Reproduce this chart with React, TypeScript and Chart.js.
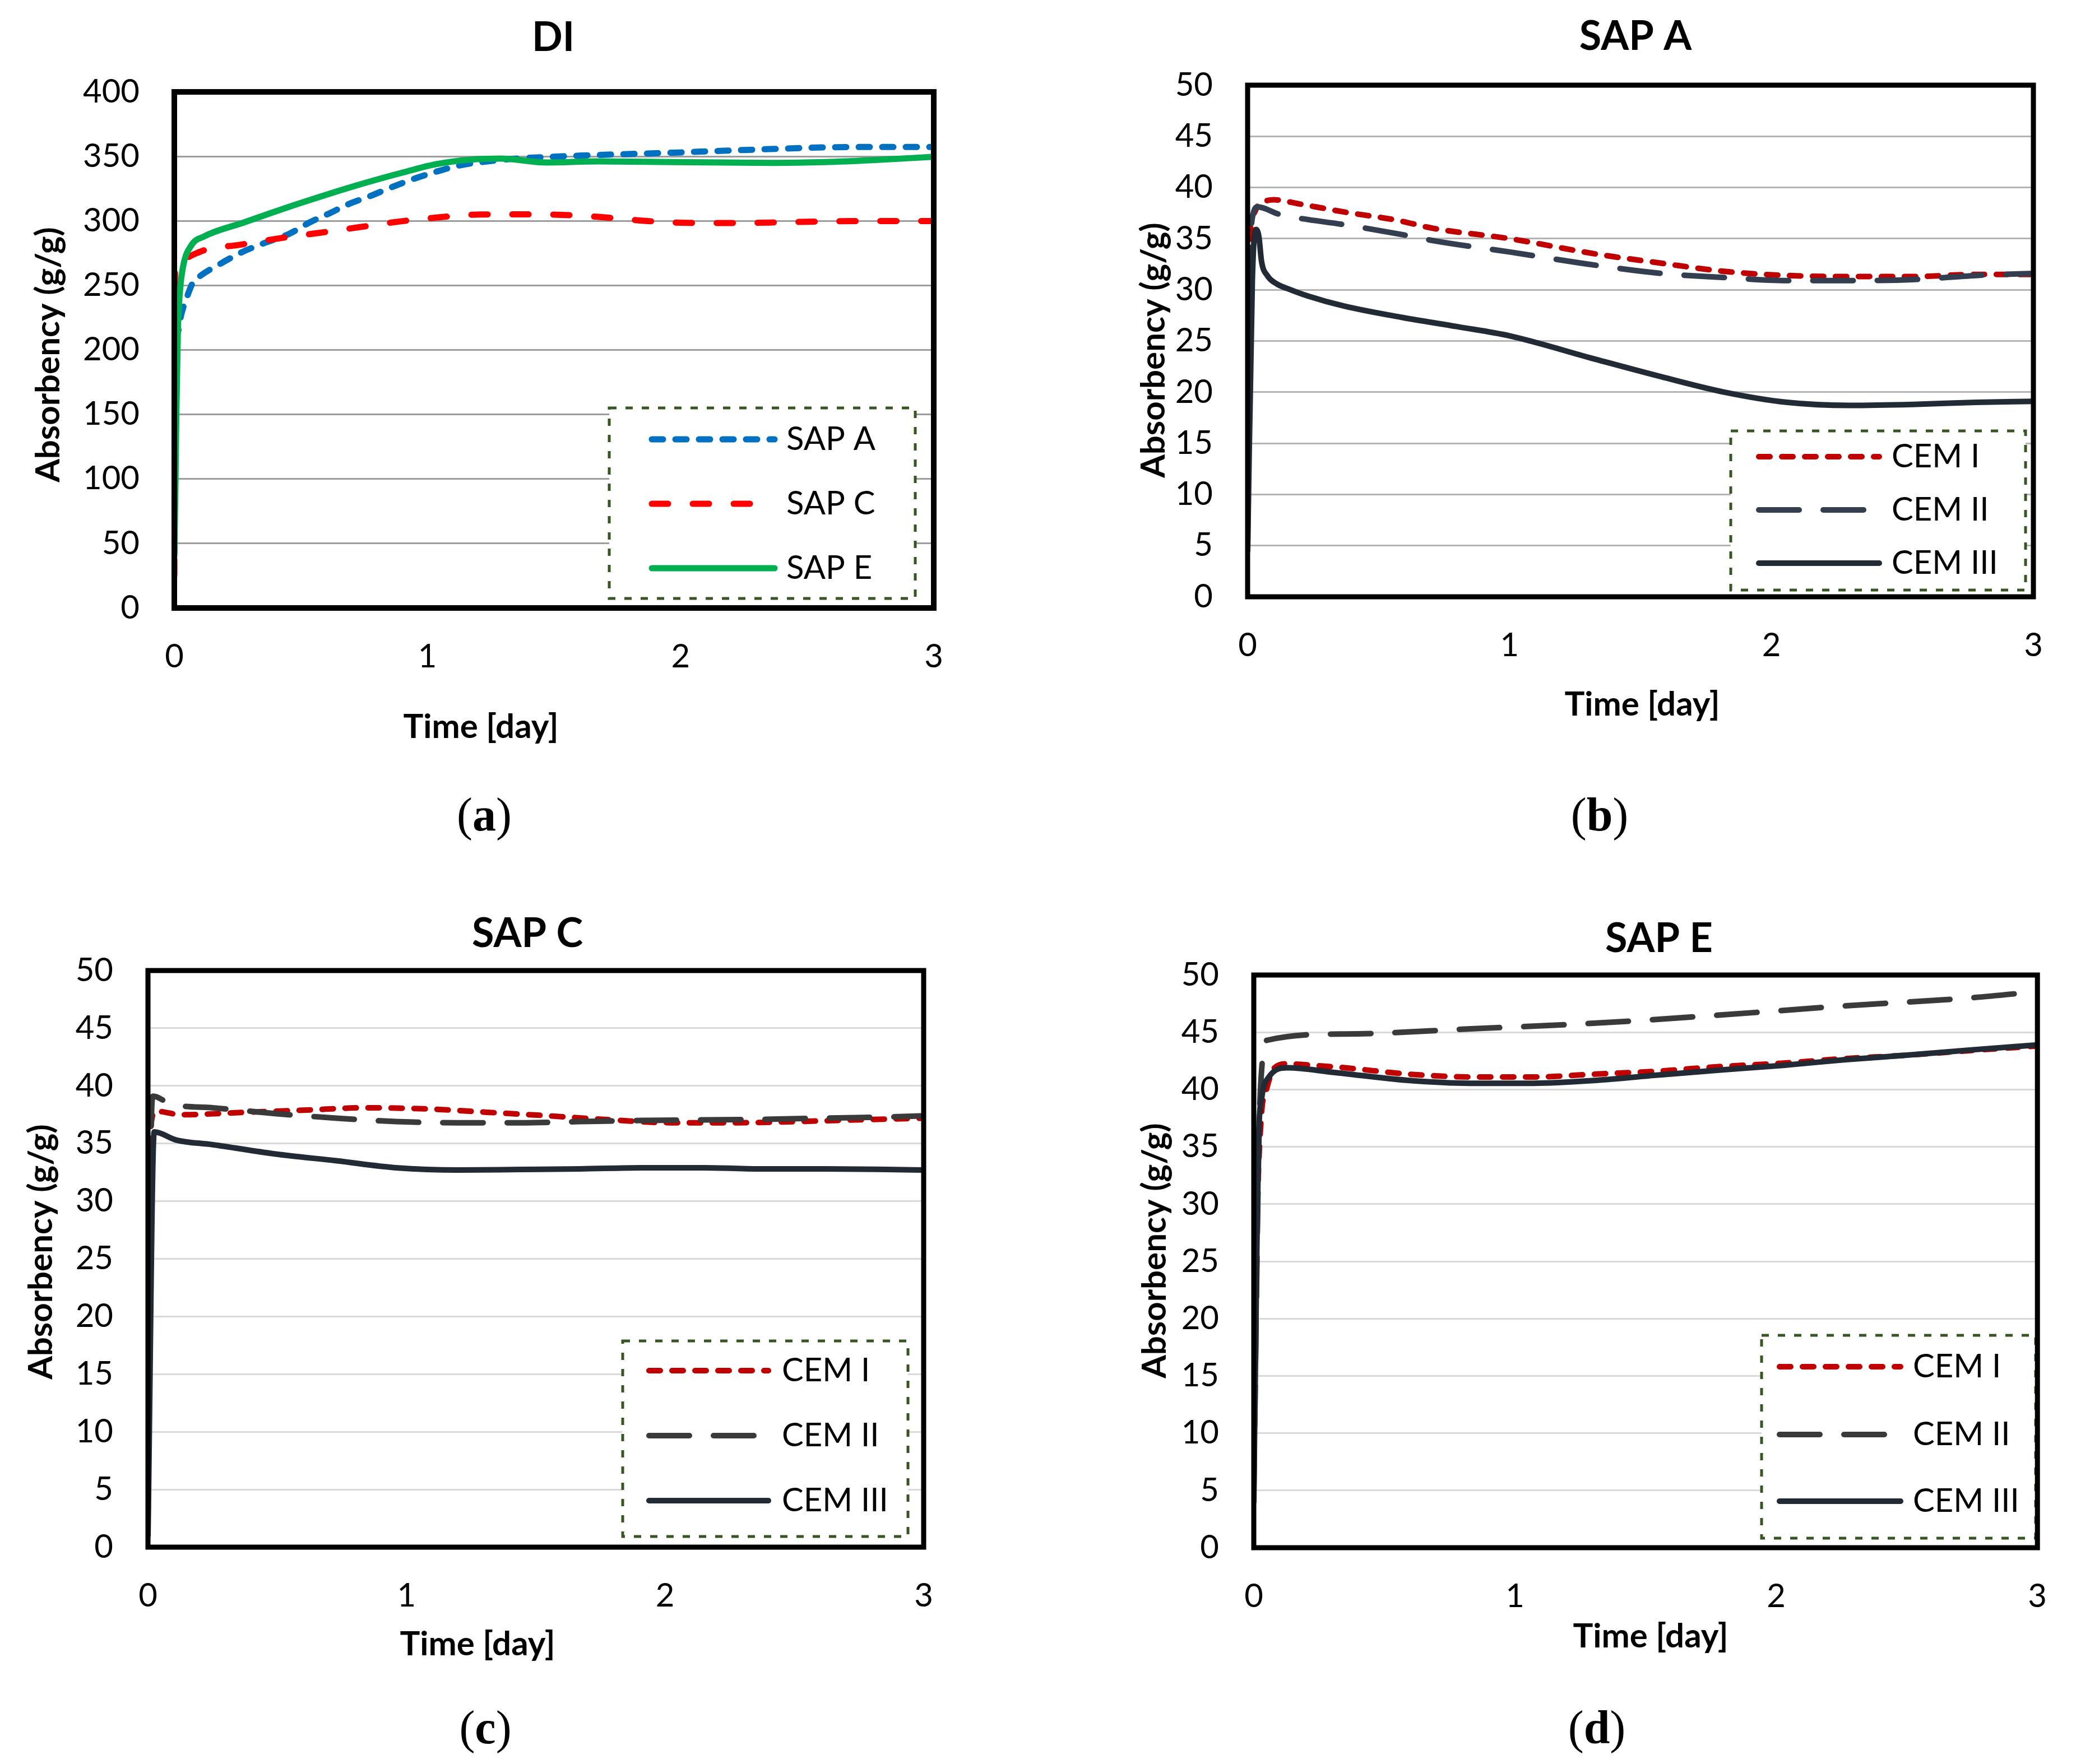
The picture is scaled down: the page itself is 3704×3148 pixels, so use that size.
import React, { useEffect, useRef } from "react";
import { Chart, registerables } from "chart.js";

Chart.register(...registerables);

const FONT = 'Lato, "Open Sans", sans-serif';
const SERIF = '"Liberation Serif", "DejaVu Serif", serif';

// ---------- Panel (a): DI ----------
const diSapATime = [0, 0.008, 0.016, 0.027, 0.05, 0.073, 0.107, 0.175, 0.265, 0.355, 0.454, 0.534, 0.614, 0.693, 0.773, 0.853, 0.952, 1.032, 1.131, 1.231, 1.35, 1.49, 1.61, 1.77, 1.97, 2.17, 2.37, 2.57, 2.76, 3.0];
const diSapA = [43, 200, 215, 227, 241, 252, 258, 266, 275.6, 282.8, 290, 298.8, 306, 313.4, 319.2, 325.7, 333, 338, 343.2, 346, 348.3, 349.7, 350.7, 351.7, 352.9, 354.4, 355.8, 357, 357.3, 357.3];

const diSapCTime = [0, 0.003, 0.03, 0.076, 0.13, 0.255, 0.414, 0.574, 0.733, 0.892, 1.052, 1.211, 1.37, 1.53, 1.69, 1.87, 2.03, 2.19, 2.37, 2.57, 2.76, 3.0];
const diSapC = [25, 264, 270, 274, 278, 281.4, 286.5, 290.8, 295.2, 299.6, 302.9, 305, 305.1, 304.7, 302.9, 299.9, 298.5, 298.4, 298.8, 299.6, 299.9, 299.9];

const diSapETime = [0, 0.004, 0.008, 0.014, 0.022, 0.035, 0.067, 0.118, 0.275, 0.434, 0.594, 0.753, 0.912, 1.032, 1.171, 1.29, 1.47, 1.67, 1.97, 2.37, 2.57, 2.76, 3.0];
const diSapE = [40, 90, 150, 215, 245, 265, 281, 288, 298.8, 309.7, 319.9, 329.4, 338, 343.9, 347.5, 348.3, 345.3, 346.1, 345.6, 345, 345.6, 347.1, 349.7];

// ---------- Panel (b): SAP A ----------
const aCem1Time = [0, 0.005, 0.011, 0.025, 0.039, 0.06, 0.1, 0.196, 0.37, 0.57, 0.71, 1.0, 1.33, 1.58, 1.82, 2.06, 2.3, 2.54, 2.78, 3.0];
const aCem1 = [8, 22, 35.5, 37.5, 38.25, 38.6, 38.8, 38.4, 37.6, 36.8, 36.0, 35.0, 33.5, 32.6, 31.8, 31.4, 31.3, 31.3, 31.5, 31.5];

const aCem2Time = [0, 0.01, 0.014, 0.039, 0.118, 0.196, 0.36, 0.59, 0.71, 1.0, 1.33, 1.58, 1.82, 2.06, 2.3, 2.54, 2.78, 3.0];
const aCem2 = [5, 30, 36.3, 38.1, 37.4, 37.0, 36.4, 35.4, 34.8, 33.7, 32.4, 31.6, 31.2, 30.9, 30.9, 31.0, 31.4, 31.6];

const aCem3Time = [0, 0.018, 0.032, 0.043, 0.053, 0.075, 0.11, 0.16, 0.23, 0.37, 0.59, 0.8, 1.0, 1.33, 1.58, 1.82, 2.06, 2.3, 2.54, 2.78, 3.0];
const aCem3 = [4.5, 30.9, 35.9, 35.2, 32.8, 31.4, 30.6, 30.05, 29.4, 28.4, 27.3, 26.4, 25.5, 23.2, 21.5, 20.0, 19.0, 18.7, 18.8, 19.0, 19.1];

// ---------- Panel (c): SAP C ----------
const cCem1Time = [0, 0.01, 0.03, 0.13, 0.37, 0.61, 0.84, 1.08, 1.32, 1.55, 1.79, 2.03, 2.26, 2.5, 2.74, 3.0];
const cCem1 = [2.6, 36.2, 37.8, 37.5, 37.7, 37.9, 38.1, 38.0, 37.7, 37.4, 37.05, 36.8, 36.8, 36.9, 37.05, 37.2];

const cCem2Time = [0, 0.012, 0.02, 0.09, 0.25, 0.49, 0.73, 0.96, 1.2, 1.44, 1.67, 1.91, 2.15, 2.38, 2.62, 2.86, 3.0];
const cCem2 = [3, 36, 39.1, 38.4, 38.1, 37.6, 37.2, 36.9, 36.8, 36.8, 36.9, 37.0, 37.05, 37.1, 37.2, 37.3, 37.4];

const cCem3Time = [0, 0.024, 0.11, 0.25, 0.49, 0.73, 0.96, 1.2, 1.44, 1.67, 1.91, 2.15, 2.38, 2.62, 2.86, 3.0];
const cCem3 = [1, 36.0, 35.3, 34.9, 34.1, 33.5, 32.9, 32.7, 32.75, 32.8, 32.9, 32.9, 32.8, 32.8, 32.75, 32.7];

// ---------- Panel (d): SAP E ----------
const eCem1Time = [0, 0.012, 0.03, 0.044, 0.079, 0.129, 0.235, 0.35, 0.59, 0.83, 1.07, 1.31, 1.54, 1.78, 2.02, 2.26, 2.5, 2.74, 3.0];
const eCem1 = [10, 28, 38, 39.6, 41.9, 42.25, 42.1, 41.9, 41.35, 41.1, 41.1, 41.35, 41.6, 42.0, 42.3, 42.7, 43.0, 43.4, 43.8];

const eCem2Time = [0, 0.02, 0.033, 0.05, 0.35, 0.83, 1.31, 1.78, 2.26, 2.74, 3.0];
const eCem2 = [5, 36, 42.6, 44.3, 44.85, 45.3, 45.8, 46.5, 47.3, 48.0, 48.55];

const eCem3Time = [0, 0.012, 0.019, 0.03, 0.058, 0.129, 0.305, 0.59, 0.83, 1.07, 1.31, 1.54, 1.78, 2.02, 2.26, 2.5, 2.74, 3.0];
const eCem3 = [4, 26.6, 36.1, 39.2, 41.1, 41.9, 41.5, 40.8, 40.55, 40.55, 40.8, 41.25, 41.7, 42.1, 42.6, 43.0, 43.45, 43.9];

// ---------- Labels ----------
const diLabels = ["SAP A", "SAP C", "SAP E"];
const cemLabels = ["CEM I", "CEM II", "CEM III"];
const panelTitles = ["DI", "SAP A", "SAP C", "SAP E"];
const panelLetters = ["a", "b", "c", "d"];
const xTitle = "Time [day]";
const yTitle = "Absorbency (g/g)";

const PW = 1852;
const PH = 1574;

type Series = { label: string; t: number[]; v: number[]; color: string; width: number; dash: number[]; order: number };

type Panel = {
  left: number; top: number;
  plot: { l: number; r: number; t: number; b: number };
  yMax: number; yStep: number; gridColor: string; frame: number;
  title: string; titleXY: [number, number];
  xTitleXY: [number, number]; yTitleXY: [number, number];
  letter: string; tagXY: [number, number];
  legendBox: [number, number, number, number];
  legendY: number[]; sampleX: [number, number]; textX: number;
  series: Series[];
};

const CEM_W = 10;
const mkCem = (t1: number[], v1: number[], t2: number[], v2: number[], t3: number[], v3: number[], c2: string): Series[] => [
  { label: cemLabels[0], t: t1, v: v1, color: "#C00000", width: CEM_W, dash: [20, 21], order: 3 },
  { label: cemLabels[1], t: t2, v: v2, color: c2, width: CEM_W, dash: [72, 43], order: 2 },
  { label: cemLabels[2], t: t3, v: v3, color: "#222A35", width: CEM_W, dash: [], order: 1 },
];

const panels: Panel[] = [
  {
    left: 0, top: 0,
    plot: { l: 311, r: 1666, t: 164, b: 1085 },
    yMax: 400, yStep: 50, gridColor: "#9C9C9C", frame: 10,
    title: panelTitles[0], titleXY: [987, 68],
    xTitleXY: [858, 1298], yTitleXY: [87, 633],
    letter: panelLetters[0], tagXY: [864, 1460],
    legendBox: [1087, 728, 1633, 1068],
    legendY: [784, 899, 1014], sampleX: [1163, 1382], textX: 1403,
    series: [
      { label: diLabels[0], t: diSapATime, v: diSapA, color: "#0070C0", width: 11, dash: [20, 22], order: 3 },
      { label: diLabels[1], t: diSapCTime, v: diSapC, color: "#FF0000", width: 11, dash: [29, 44], order: 2 },
      { label: diLabels[2], t: diSapETime, v: diSapE, color: "#00B050", width: 11, dash: [], order: 1 },
    ],
  },
  {
    left: PW, top: 0,
    plot: { l: 374, r: 1776, t: 152, b: 1065 },
    yMax: 50, yStep: 5, gridColor: "#B4B4B4", frame: 9,
    title: panelTitles[1], titleXY: [1066, 66],
    xTitleXY: [1078, 1258], yTitleXY: [207, 625],
    letter: panelLetters[1], tagXY: [1002, 1460],
    legendBox: [1236, 769, 1762, 1053],
    legendY: [815, 910, 1005], sampleX: [1286, 1501], textX: 1523,
    series: mkCem(aCem1Time, aCem1, aCem2Time, aCem2, aCem3Time, aCem3, "#333F50"),
  },
  {
    left: 0, top: PH,
    plot: { l: 264, r: 1648, t: 158, b: 1187 },
    yMax: 50, yStep: 5, gridColor: "#D9D9D9", frame: 9,
    title: panelTitles[2], titleXY: [941, 93],
    xTitleXY: [852, 1361], yTitleXY: [74, 660],
    letter: panelLetters[2], tagXY: [866, 1515],
    legendBox: [1111, 819, 1620, 1168],
    legendY: [872, 988, 1104], sampleX: [1158, 1371], textX: 1395,
    series: mkCem(cCem1Time, cCem1, cCem2Time, cCem2, cCem3Time, cCem3, "#3A3A3A"),
  },
  {
    left: PW, top: PH,
    plot: { l: 385, r: 1799, t: 166, b: 1188 },
    yMax: 50, yStep: 5, gridColor: "#D9D9D9", frame: 9,
    title: panelTitles[3], titleXY: [1108, 102],
    xTitleXY: [1093, 1347], yTitleXY: [209, 658],
    letter: panelLetters[3], tagXY: [997, 1515],
    legendBox: [1291, 809, 1780, 1171],
    legendY: [865, 986, 1105], sampleX: [1323, 1539], textX: 1561,
    series: mkCem(eCem1Time, eCem1, eCem2Time, eCem2, eCem3Time, eCem3, "#3A3A3A"),
  },
];

function drawTag(ctx: CanvasRenderingContext2D, letter: string, cx: number, cy: number) {
  const reg = `84px ${SERIF}`;
  const bold = `bold 84px ${SERIF}`;
  ctx.font = reg;
  const wp = ctx.measureText("(").width;
  const wq = ctx.measureText(")").width;
  ctx.font = bold;
  const wl = ctx.measureText(letter).width;
  let x = cx - (wp + wl + wq) / 2;
  ctx.textAlign = "left";
  ctx.textBaseline = "middle";
  ctx.font = reg;
  ctx.fillText("(", x, cy);
  x += wp;
  ctx.font = bold;
  ctx.fillText(letter, x, cy);
  x += wl;
  ctx.font = reg;
  ctx.fillText(")", x, cy);
}

function makeOverlay(p: Panel) {
  return {
    id: "overlay",
    beforeDraw(chart: any) {
      const ctx = chart.ctx;
      ctx.save();
      ctx.fillStyle = "#fff";
      ctx.fillRect(0, 0, chart.width, chart.height);
      ctx.restore();
    },
    afterDraw(chart: any) {
      const ctx: CanvasRenderingContext2D = chart.ctx;
      const { left, top, right, bottom } = chart.chartArea;
      ctx.save();
      // legend box
      const [bx1, by1, bx2, by2] = p.legendBox;
      ctx.fillStyle = "#fff";
      ctx.fillRect(bx1, by1, bx2 - bx1, by2 - by1);
      ctx.setLineDash([13, 16]);
      ctx.lineWidth = 5;
      ctx.lineCap = "butt";
      ctx.strokeStyle = "#375623";
      ctx.strokeRect(bx1, by1, bx2 - bx1, by2 - by1);
      // legend entries
      chart.data.datasets.forEach((ds: any, i: number) => {
        const y = p.legendY[i];
        ctx.beginPath();
        ctx.setLineDash(ds.borderDash || []);
        ctx.lineCap = "round";
        ctx.lineWidth = ds.borderWidth;
        ctx.strokeStyle = ds.borderColor;
        ctx.moveTo(p.sampleX[0], y);
        ctx.lineTo(p.sampleX[1], y);
        ctx.stroke();
        ctx.setLineDash([]);
        ctx.fillStyle = "#000";
        ctx.font = `58px ${FONT}`;
        ctx.textAlign = "left";
        ctx.textBaseline = "middle";
        ctx.fillText(ds.label, p.textX, y);
      });
      // frame
      ctx.setLineDash([]);
      ctx.lineWidth = p.frame;
      ctx.strokeStyle = "#000";
      ctx.lineJoin = "miter";
      ctx.strokeRect(left, top, right - left, bottom - top);
      // titles
      ctx.fillStyle = "#000";
      ctx.textAlign = "center";
      ctx.textBaseline = "middle";
      ctx.font = `bold 72px ${FONT}`;
      ctx.fillText(p.title, p.titleXY[0], p.titleXY[1]);
      ctx.font = `bold 60px ${FONT}`;
      ctx.fillText(xTitle, p.xTitleXY[0], p.xTitleXY[1]);
      ctx.save();
      ctx.translate(p.yTitleXY[0], p.yTitleXY[1]);
      ctx.rotate(-Math.PI / 2);
      ctx.fillText(yTitle, 0, 0);
      ctx.restore();
      drawTag(ctx, p.letter, p.tagXY[0], p.tagXY[1]);
      ctx.restore();
    },
  };
}

function PanelChart({ p }: { p: Panel }) {
  const ref = useRef<HTMLCanvasElement>(null);
  useEffect(() => {
    if (!ref.current) return;
    const chart = new Chart(ref.current, {
      type: "line",
      data: {
        datasets: p.series.map((s) => ({
          label: s.label,
          data: s.t.map((t, i) => ({ x: t, y: s.v[i] })),
          borderColor: s.color,
          backgroundColor: s.color,
          borderWidth: s.width,
          borderDash: s.dash,
          borderCapStyle: "round",
          borderJoinStyle: "round",
          pointRadius: 0,
          fill: false,
          cubicInterpolationMode: "monotone",
          order: s.order,
        })),
      },
      options: {
        animation: false,
        responsive: false,
        devicePixelRatio: 1,
        layout: { padding: { left: 0, top: p.plot.t, right: PW - p.plot.r, bottom: 0 } },
        plugins: { legend: { display: false }, tooltip: { enabled: false }, title: { display: false } },
        scales: {
          x: {
            type: "linear",
            min: 0,
            max: 3,
            ticks: { stepSize: 1, color: "#000", font: { family: FONT, size: 58 }, padding: 52, maxRotation: 0 },
            grid: { display: false, drawTicks: false },
            border: { display: false },
            afterFit: (s: any) => { s.height = PH - p.plot.b; },
          },
          y: {
            type: "linear",
            min: 0,
            max: p.yMax,
            ticks: { stepSize: p.yStep, color: "#000", font: { family: FONT, size: 58 }, padding: 62 },
            grid: { color: p.gridColor, lineWidth: 3, drawTicks: false },
            border: { display: false },
            afterFit: (s: any) => { s.width = p.plot.l; },
          },
        },
      } as any,
      plugins: [makeOverlay(p)],
    });
    return () => chart.destroy();
  }, [p]);
  return (
    <canvas
      ref={ref}
      width={PW}
      height={PH}
      style={{ position: "absolute", left: p.left, top: p.top, width: PW, height: PH }}
    />
  );
}

export default function App() {
  return (
    <div style={{ position: "absolute", left: 0, top: 0, width: 3704, height: 3148, background: "#fff" }}>
      {panels.map((p, i) => (
        <PanelChart key={i} p={p} />
      ))}
    </div>
  );
}
